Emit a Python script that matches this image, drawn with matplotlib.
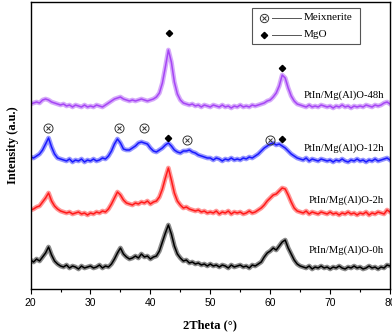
import numpy as np
import matplotlib
matplotlib.use("Agg")
import matplotlib.pyplot as plt

# 2theta grid (0.5 deg steps) and intensities (a.u., offset stacked)
two_theta = np.arange(20, 80.01, 0.5)

i_0h = [29, 27, 30, 28, 32, 36, 42, 34, 28, 25,
        23, 22, 24, 21, 23, 22, 20, 23, 21, 22,
        23, 21, 22, 24, 21, 23, 22, 25, 30, 36,
        41, 35, 32, 30, 31, 33, 31, 35, 32, 33,
        30, 32, 33, 38, 47, 56, 64, 55, 43, 35,
        31, 28, 29, 26, 27, 25, 26, 24, 25, 23,
        25, 23, 24, 22, 24, 23, 21, 24, 22, 23,
        24, 22, 23, 21, 24, 23, 25, 27, 32, 36,
        38, 41, 39, 43, 47, 49, 41, 35, 29, 25,
        23, 22, 21, 23, 20, 22, 21, 23, 21, 22,
        20, 22, 21, 23, 21, 20, 22, 21, 23, 21,
        22, 20, 21, 23, 21, 22, 20, 22, 21, 24,
        23]

i_2h = [79, 80, 82, 83, 87, 91, 96, 88, 83, 80,
        78, 77, 76, 77, 75, 76, 77, 75, 76, 74,
        76, 75, 77, 76, 78, 77, 80, 85, 91, 97,
        94, 89, 86, 85, 84, 86, 85, 87, 86, 88,
        85, 87, 88, 92, 100, 111, 121, 109, 96, 88,
        84, 81, 82, 80, 79, 78, 79, 77, 78, 76,
        77, 76, 78, 75, 77, 76, 78, 75, 77, 76,
        77, 75, 76, 78, 76, 77, 79, 81, 84, 88,
        91, 94, 95, 98, 101, 100, 94, 87, 81, 78,
        77, 76, 78, 75, 77, 76, 75, 77, 76, 75,
        77, 75, 76, 74, 76, 75, 77, 75, 76, 74,
        76, 75, 77, 74, 76, 75, 77, 76, 75, 79,
        77]

i_12h = [132, 131, 133, 135, 139, 145, 151, 142, 135, 131,
         130, 129, 128, 130, 127, 129, 128, 130, 127, 129,
         128, 130, 128, 129, 131, 130, 133, 138, 145, 150,
         146, 140, 139, 139, 141, 143, 146, 147, 146, 145,
         141, 138, 137, 139, 141, 144, 146, 143, 139, 137,
         136, 138, 138, 139, 137, 136, 134, 133, 132, 131,
         131, 129, 131, 130, 128, 130, 129, 131, 129, 130,
         129, 131, 130, 132, 131, 133, 135, 138, 141, 143,
         145, 146, 144, 145, 143, 141, 138, 135, 133, 131,
         130, 129, 131, 128, 130, 129, 128, 130, 129, 128,
         129, 127, 129, 128, 130, 128, 127, 129, 128, 130,
         128, 129, 127, 129, 128, 130, 128, 129, 130, 131,
         129]

i_48h = [185, 186, 187, 186, 189, 190, 189, 187, 186, 185,
         184, 185, 183, 184, 182, 184, 183, 182, 184, 182,
         183, 182, 184, 183, 182, 184, 186, 188, 190, 191,
         192, 190, 189, 188, 189, 188, 189, 190, 189, 188,
         189, 190, 192, 196, 206, 222, 239, 227, 207, 195,
         189, 186, 185, 184, 185, 183, 184, 182, 184, 183,
         182, 184, 183, 182, 184, 182, 183, 181, 183, 182,
         184, 182, 183, 182, 184, 183, 184, 185, 186, 188,
         189, 192, 196, 203, 214, 211, 201, 193, 188, 185,
         184, 183, 182, 184, 182, 183, 182, 184, 183, 182,
         183, 181, 183, 182, 184, 182, 183, 181, 183, 182,
         183, 182, 184, 183, 182, 184, 183, 184, 186, 187,
         185]

labels = ["PtIn/Mg(Al)O-0h", "PtIn/Mg(Al)O-2h", "PtIn/Mg(Al)O-12h", "PtIn/Mg(Al)O-48h"]
label_y = [39, 89, 141, 194]
colors = ["#000000", "#ff1a1a", "#1a1aff", "#a646f5"]

# phase markers
meix_x = [22.9, 34.7, 38.9, 46.1, 60.0]
meix_y = [161, 161, 161, 149, 149]
mgo_x = [43.0, 61.9, 43.1, 61.9]
mgo_y = [151, 150, 256, 221]

plt.rcParams['font.family'] = ['Liberation Serif', 'DejaVu Serif']

fig = plt.figure(figsize=(3.92, 3.32), dpi=100)
ax = fig.add_axes([0.078, 0.1295, 0.917, 0.8645])

for ys, c, lab, ly in zip([i_0h, i_2h, i_12h, i_48h], colors, labels, label_y):
    ax.plot(two_theta, ys, color=c, lw=3.4, alpha=0.45)
    ax.plot(two_theta, ys, color=c, lw=1.1)
    ax.text(79, ly, lab, ha='right', va='center', fontsize=7.7)

ax.plot(meix_x, meix_y, 'o', mfc='none', mec='#333333', ms=6.5, mew=0.7, ls='none')
ax.plot(meix_x, meix_y, 'x', color='#333333', ms=3.5, mew=0.7, ls='none')
ax.plot(mgo_x, mgo_y, 'D', color='black', ms=3.2, ls='none')

# legend box
tr = ax.transAxes
ax.add_patch(plt.Rectangle((0.617, 0.853), 0.3, 0.125, transform=tr, fill=False,
                           ec='#555555', lw=0.8))
ax.plot([0.65], [0.945], 'o', mfc='none', mec='#333333', ms=6, mew=0.7, transform=tr)
ax.plot([0.65], [0.945], 'x', color='#333333', ms=3.2, mew=0.7, transform=tr)
ax.plot([0.65], [0.885], 'D', color='black', ms=3.2, transform=tr)
ax.plot([0.672, 0.752], [0.945, 0.945], color='#555555', lw=0.7, transform=tr)
ax.plot([0.672, 0.752], [0.885, 0.885], color='#555555', lw=0.7, transform=tr)
ax.text(0.76, 0.945, "Meixnerite", transform=tr, va='center', fontsize=8)
ax.text(0.76, 0.885, "MgO", transform=tr, va='center', fontsize=8)

ax.set_xlim(20, 80)
ax.set_ylim(0, 287)
ax.set_xticks(range(20, 81, 10))
ax.set_xticks(range(25, 80, 10), minor=True)
ax.set_yticks([])
ax.tick_params(axis='x', which='major', length=3.5, width=0.8, labelsize=7.5, pad=3)
ax.tick_params(axis='x', which='minor', length=2.5, width=0.8)
for t in ax.get_xticklabels():
    t.set_fontfamily('Liberation Sans')
for s in ax.spines.values():
    s.set_linewidth(1.0)

ax.set_xlabel("2Theta (°)", fontsize=9, fontweight='bold', labelpad=8)
ax.set_ylabel("Intensity (a.u.)", fontsize=9, fontweight='bold', labelpad=8)

fig.savefig("out.png", dpi=100)
